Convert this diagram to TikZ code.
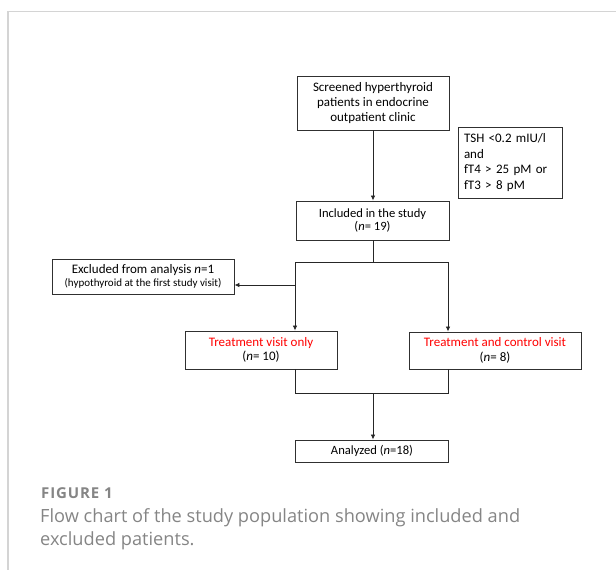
\documentclass[tikz,border=0pt]{standalone}
\usepackage{fontspec}
\setmainfont{Carlito}
\newfontfamily\capfont{Open Sans}
\usetikzlibrary{arrows.meta}
\definecolor{capgray}{HTML}{858585}
\definecolor{framegray}{HTML}{D4D4D4}
\definecolor{boxline}{HTML}{303030}
\tikzset{
  box/.style={draw=boxline, line width=0.9pt, align=center, inner sep=2pt,
    font=\fontsize{13}{14.7}\selectfont},
  conn/.style={draw=black!85, line width=0.8pt},
  arr/.style={conn, -{Latex[length=5pt,width=4.5pt]}},
  captxt/.style={anchor=base west, inner sep=0pt, text=capgray},
}
\begin{document}
\begin{tikzpicture}[x=1pt,y=-1pt]
\useasboundingbox (0,0) rectangle (616,570);
\draw[framegray, line width=1.3pt] (8,570) -- (8,11.5) -- (616,11.5);

\node[box, minimum width=152pt, minimum height=54pt] (scr) at (373,103)
  {Screened hyperthyroid\\patients in endocrine\\outpatient clinic};
\node[box, minimum width=104pt, minimum height=71pt, align=left, text width=92pt,
  font=\fontsize{13}{15.7}\selectfont] (tsh) at (510,162.5)
  {TSH {<}0.2 mIU/l\\and\\fT4 {>} 25 pM or\\fT3 {>} 8 pM};
\node[box, minimum width=153pt, minimum height=39pt, font=\fontsize{12.6}{13.5}\selectfont] (inc) at (372.5,220.5)
  {Included in the study\\(\textit{n}= 19)};
\node[box, minimum width=182pt, minimum height=35pt, font=\fontsize{13}{13}\selectfont] (exc) at (143,276.5)
  {Excluded from analysis \textit{n}=1\\{\fontsize{11}{12}\selectfont(hypothyroid at the first study visit)}};
\node[box, minimum width=152pt, minimum height=38pt, font=\fontsize{13}{14.5}\selectfont] (t1) at (261,350)
  {\textcolor{red}{Treatment visit only}\\(\textit{n}= 10)};
\node[box, minimum width=172pt, minimum height=37pt, font=\fontsize{13}{14.5}\selectfont] (t2) at (495,350.5)
  {\textcolor{red}{Treatment and control visit}\\(\textit{n}= 8)};
\node[box, minimum width=153pt, minimum height=22pt, font=\fontsize{12.6}{13}\selectfont] (ana) at (372,451)
  {Analyzed (\textit{n}=18)};

\coordinate (j0) at (373,262);
\coordinate (jl) at (295,262);
\coordinate (jr) at (448,262);
\coordinate (je) at (295,285);
\coordinate (b0) at (373,393);
\coordinate (bl) at (295,393);
\coordinate (br) at (448,393);

\draw[arr] (scr.south -| j0) -- (inc.north -| j0);
\draw[conn] (inc.south -| j0) -- (j0);
\draw[conn] (jl) -- (jr);
\draw[arr] (jl) -- (t1.north -| jl);
\draw[arr] (jr) -- (t2.north -| jr);
\draw[arr] (je) -- (exc.east |- je);
\draw[conn] (t1.south -| bl) -- (bl) -- (br) -- (t2.south -| br);
\draw[arr] (b0) -- (ana.north -| b0);

\node[captxt, font=\capfont\bfseries\fontsize{15}{16}\selectfont\addfontfeature{LetterSpace=6}] (fig) at (41,498) {FIGURE 1};
\node[captxt, font=\capfont\fontsize{18.2}{20}\selectfont] (cap1) at (40,522)
  {Flow chart of the study population showing included and};
\node[captxt, font=\capfont\fontsize{18.2}{20}\selectfont] (cap2) at (40,545)
  {excluded patients.};
\end{tikzpicture}
\end{document}
